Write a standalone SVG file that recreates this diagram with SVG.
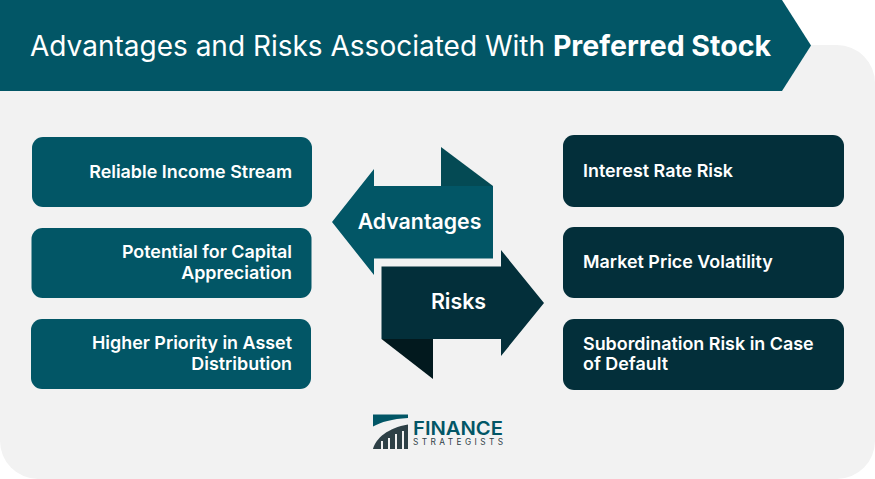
<svg xmlns="http://www.w3.org/2000/svg" width="875" height="479" viewBox="0 0 875 479">
<style>
text{font-family:Inter,"Liberation Sans",sans-serif}
.b{font-size:17.9px;font-weight:600;fill:#fff}
.e{text-anchor:end}
.teal{fill:#025666}
.dark{fill:#032f3a}
</style>
<rect width="875" height="479" fill="#fff"/>
<rect x="0" y="45" width="875" height="434" rx="38" fill="#f2f2f2"/>
<g id="header">
<path class="teal" d="M0 0H782L811 45.500L782 91H0Z"/>
<text x="30" y="55.500" font-size="28px" fill="#fff">Advantages and Risks Associated With <tspan font-weight="700" font-size="28.500px">Preferred Stock</tspan></text>
</g>
<g id="adv-1"><rect class="teal" x="32" y="137" width="280" height="70" rx="11"/><text class="b e" x="292" y="177.500">Reliable Income Stream</text></g>
<g id="adv-2"><rect class="teal" x="31.500" y="228" width="280" height="70" rx="11"/><text class="b e" x="292" y="257.500">Potential for Capital</text><text class="b e" x="292" y="278.500">Appreciation</text></g>
<g id="adv-3"><rect class="teal" x="31" y="319" width="280" height="70" rx="11"/><text class="b e" x="292" y="348.500">Higher Priority in Asset</text><text class="b e" x="292" y="369.500">Distribution</text></g>
<g id="risk-1"><rect class="dark" x="563" y="135" width="281" height="72" rx="11"/><text class="b" x="583" y="176.500">Interest Rate Risk</text></g>
<g id="risk-2"><rect class="dark" x="563" y="227" width="281" height="71" rx="11"/><text class="b" x="583" y="267.500">Market Price Volatility</text></g>
<g id="risk-3"><rect class="dark" x="563" y="319" width="281" height="71" rx="11"/><text class="b" x="583" y="349.500">Subordination Risk in Case</text><text class="b" x="583" y="370">of Default</text></g>
<g id="advantages">
<path fill="#044a54" d="M441 147L493 186H441Z"/>
<path class="teal" d="M332 222L374 169V186H493V258.500H374V275Z"/>
<text x="419.500" y="229" font-size="21.300px" font-weight="600" fill="#fff" text-anchor="middle">Advantages</text>
</g>
<g id="risks">
<path fill="#02191e" d="M381.500 339H433V379Z"/>
<path class="dark" d="M381.500 266.500H501V250L544 303L501 356V339H381.500Z"/>
<text x="458.500" y="309" font-size="21.400px" font-weight="600" fill="#fff" text-anchor="middle">Risks</text>
</g>
<g id="logo">
<path class="teal" d="M373 414.500H408V418C392 419 381 422 373 426.500Z"/>
<path fill="#2e4046" d="M373 449C376 438 388 428 408 424.500V449H404V431H402V449H397V434H395V449H390V438H388V449H383V441H381V449Z"/>
<text x="413" y="434.500" font-size="19px" font-weight="600" fill="#025666" textLength="90" lengthAdjust="spacingAndGlyphs">FINANCE</text>
<text x="413" y="444.500" font-size="8.300px" fill="#2e4046" textLength="90">STRATEGISTS</text>
</g>
</svg>
